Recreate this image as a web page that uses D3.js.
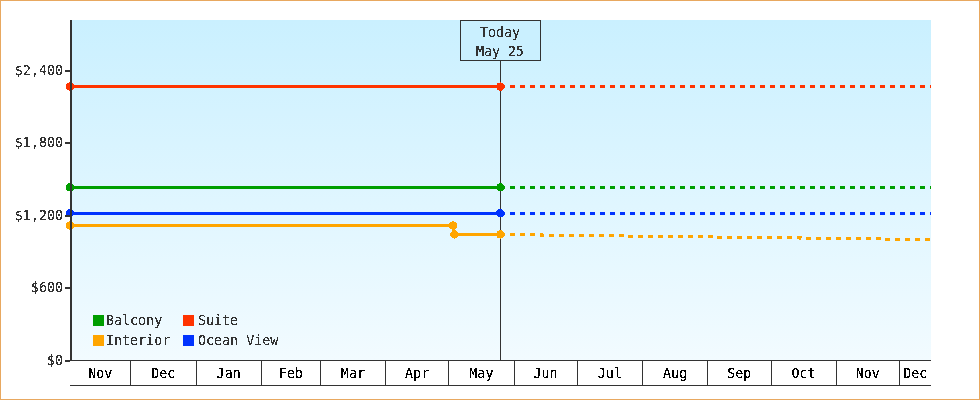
<!DOCTYPE html>
<html lang="en">
<head>
<meta charset="UTF-8"/>
<title>Cruise fares</title>
<script src="https://d3js.org/d3.v7.min.js"></script>
<style>
    html, body { margin: 0; padding: 0; background: #fff; }
    svg { display: block; }
    text { font-family: "DejaVu Sans Mono", "Liberation Mono", monospace; font-size: 13.33px; fill: #333; filter: url(#hardtext); }
</style>
</head>
<body>
<div id="diagram"></div>
<script>
var dollarTicks = [0, 600, 1200, 1800, 2400];
var startDate = "2010-11-02T04:00";
var monthStarts = ["2010-12-01", "2011-01-01", "2011-02-01", "2011-03-01", "2011-04-01", "2011-05-01",
    "2011-06-01", "2011-07-01", "2011-08-01", "2011-09-01", "2011-10-01", "2011-11-01", "2011-12-01"];
var monthNames = ["Nov", "Dec", "Jan", "Feb", "Mar", "Apr", "May", "Jun", "Jul", "Aug", "Sep", "Oct", "Nov", "Dec"];
var endDate = "2011-12-16";
var todayDate = "2011-05-25T12:00";
var seriesNames = ["Balcony", "Suite", "Interior", "Ocean View"];
var seriesColors = ["#009e00", "#ff3300", "#ffa500", "#0033ff"];
var balconyPast = [1433, 1433];
var suitePast = [2267, 2267];
var oceanPast = [1219, 1219];
var pastDates = [startDate, todayDate];
var interiorBefore = [1117, 1117];
var interiorBeforeDates = [startDate, "2011-05-03"];
var interiorAfter = [1043, 1043];
var interiorAfterDates = ["2011-05-03T18:00", todayDate];
var futureDates = [todayDate, endDate];
var interiorFuture = [1043, 1043, 1035, 1035, 1026, 1026, 1018, 1018, 1010, 1010, 1002, 1002];
var interiorFutureDates = [todayDate, "2011-06-14", "2011-06-14", "2011-07-24", "2011-07-24", "2011-09-04", "2011-09-04",
    "2011-10-15", "2011-10-15", "2011-11-24", "2011-11-24", endDate];

function parse(s) {
    return new Date(s + (s.length > 10 ? "Z" : "T00:00Z"));
}
var width = 980, height = 400;

var x = d3.scaleUtc().domain([parse(startDate), parse(endDate)]).range([70, 931]);
var y = d3.scaleLinear().domain([0, 2400]).range([360.5, 70.5]);

var svg = d3.select("#diagram").append("svg").attr("width", width).attr("height", height);

var defs = svg.append("defs");
var grad = defs.append("linearGradient")
    .attr("id", "plotbg").attr("x1", 0).attr("y1", 0).attr("x2", 0).attr("y2", 1);
grad.append("stop").attr("offset", "0%").attr("stop-color", "#caf0ff");
grad.append("stop").attr("offset", "100%").attr("stop-color", "#f2fbff");

// the reference text has no antialiasing, so threshold the alpha
defs.append("filter").attr("id", "hardtext").attr("color-interpolation-filters", "sRGB")
    .append("feComponentTransfer").append("feFuncA")
    .attr("type", "discrete").attr("tableValues", "0 0 1 1 1");

svg.append("rect").attr("x", 0.5).attr("y", 0.5).attr("width", width - 1).attr("height", height - 1)
    .attr("fill", "#fff").attr("stroke", "#e8a860");
svg.append("rect").attr("x", 71).attr("y", 20).attr("width", 860).attr("height", 340).attr("fill", "url(#plotbg)");

// today line sits under the series
var todayX = Math.floor(x(parse(todayDate))) + 0.5;
svg.append("line").attr("x1", todayX).attr("x2", todayX).attr("y1", 60).attr("y2", 360)
    .attr("stroke", "#333").attr("stroke-width", 1);

var line = d3.line().x(function(d) { return x(d[0]); }).y(function(d) { return y(d[1]); });

function pairs(dates, values) {
    return dates.map(function(d, i) { return [parse(d), values[i]]; });
}

function drawSeries(dates, values, color, dashed) {
    svg.append("path").datum(pairs(dates, values)).attr("d", line)
        .attr("fill", "none").attr("stroke", color).attr("stroke-width", 3)
        .attr("shape-rendering", "crispEdges")
        .attr("stroke-dasharray", dashed ? "5,5" : null);
}

function drawDots(dates, values, color) {
    svg.selectAll(null).data(pairs(dates, values)).enter().append("circle")
        .attr("cx", function(d) { return x(d[0]); })
        .attr("cy", function(d) { return y(d[1]); })
        .attr("r", 4.2).attr("fill", color).attr("shape-rendering", "crispEdges");
}

var seriesPast = [balconyPast, suitePast, null, oceanPast];
seriesPast.forEach(function(vals, i) {
    if (!vals) return;
    drawSeries(futureDates, [vals[1], vals[1]], seriesColors[i], true);
    drawSeries(pastDates, vals, seriesColors[i], false);
    drawDots(pastDates, vals, seriesColors[i]);
});
drawSeries(interiorFutureDates, interiorFuture, seriesColors[2], true);
drawSeries(interiorBeforeDates, interiorBefore, seriesColors[2], false);
drawSeries([interiorBeforeDates[1], interiorAfterDates[0]], [interiorBefore[1], interiorAfter[0]], seriesColors[2], false);
drawSeries(interiorAfterDates, interiorAfter, seriesColors[2], false);
drawDots(interiorBeforeDates, interiorBefore, seriesColors[2]);
drawDots(interiorAfterDates, interiorAfter, seriesColors[2]);

// y axis
var yAxis = svg.append("g");
yAxis.append("line").attr("x1", 71).attr("x2", 71).attr("y1", 20).attr("y2", 361)
    .attr("stroke", "#333").attr("stroke-width", 2);
yAxis.selectAll("line.tick").data(dollarTicks).enter().append("line").attr("class", "tick")
    .attr("x1", 65).attr("x2", 70)
    .attr("y1", function(d) { return Math.round(y(d)); }).attr("y2", function(d) { return Math.round(y(d)); })
    .attr("stroke", "#333").attr("stroke-width", 2);
yAxis.selectAll("text").data(dollarTicks).enter().append("text")
    .attr("x", 63).attr("text-anchor", "end")
    .attr("y", function(d) { return Math.round(y(d)) + 4; })
    .text(function(d) { return "$" + d3.format(",")(d); });

// month band under the plot
var band = svg.append("g");
band.append("line").attr("x1", 70).attr("x2", 931).attr("y1", 360.5).attr("y2", 360.5).attr("stroke", "#333");
band.append("line").attr("x1", 70).attr("x2", 931).attr("y1", 385.5).attr("y2", 385.5).attr("stroke", "#333");
var monthEdges = [parse(startDate)].concat(monthStarts.map(parse), [parse(endDate)]);
band.selectAll("line.sep").data(monthEdges.slice(1, -1)).enter().append("line").attr("class", "sep")
    .attr("x1", function(d) { return Math.floor(x(d) + 0.15) + 0.5; })
    .attr("x2", function(d) { return Math.floor(x(d) + 0.15) + 0.5; })
    .attr("y1", 360).attr("y2", 385).attr("stroke", "#333");
band.selectAll("text").data(monthNames).enter().append("text")
    .attr("text-anchor", "middle").attr("y", 378).style("fill", "#000")
    .attr("x", function(d, i) { return (x(monthEdges[i]) + x(monthEdges[i + 1])) / 2; })
    .text(function(d) { return d; });

// today label
svg.append("rect").attr("x", 460.5).attr("y", 20.5).attr("width", 80).attr("height", 40)
    .attr("fill", "#caf0ff").attr("stroke", "#333");
svg.append("text").attr("x", 500).attr("y", 37).attr("text-anchor", "middle").text("Today");
svg.append("text").attr("x", 500).attr("y", 56).attr("text-anchor", "middle").text("May 25");

// legend
var legendCol = [93, 183], legendRow = [315, 335];
seriesNames.forEach(function(name, i) {
    var lx = legendCol[i % 2], ly = legendRow[Math.floor(i / 2)];
    svg.append("rect").attr("x", lx).attr("y", ly).attr("width", 11).attr("height", 11).attr("fill", seriesColors[i]);
    svg.append("text").attr("x", lx + (i % 2 ? 15 : 13)).attr("y", ly + 10).text(name);
});
</script>
</body>
</html>
